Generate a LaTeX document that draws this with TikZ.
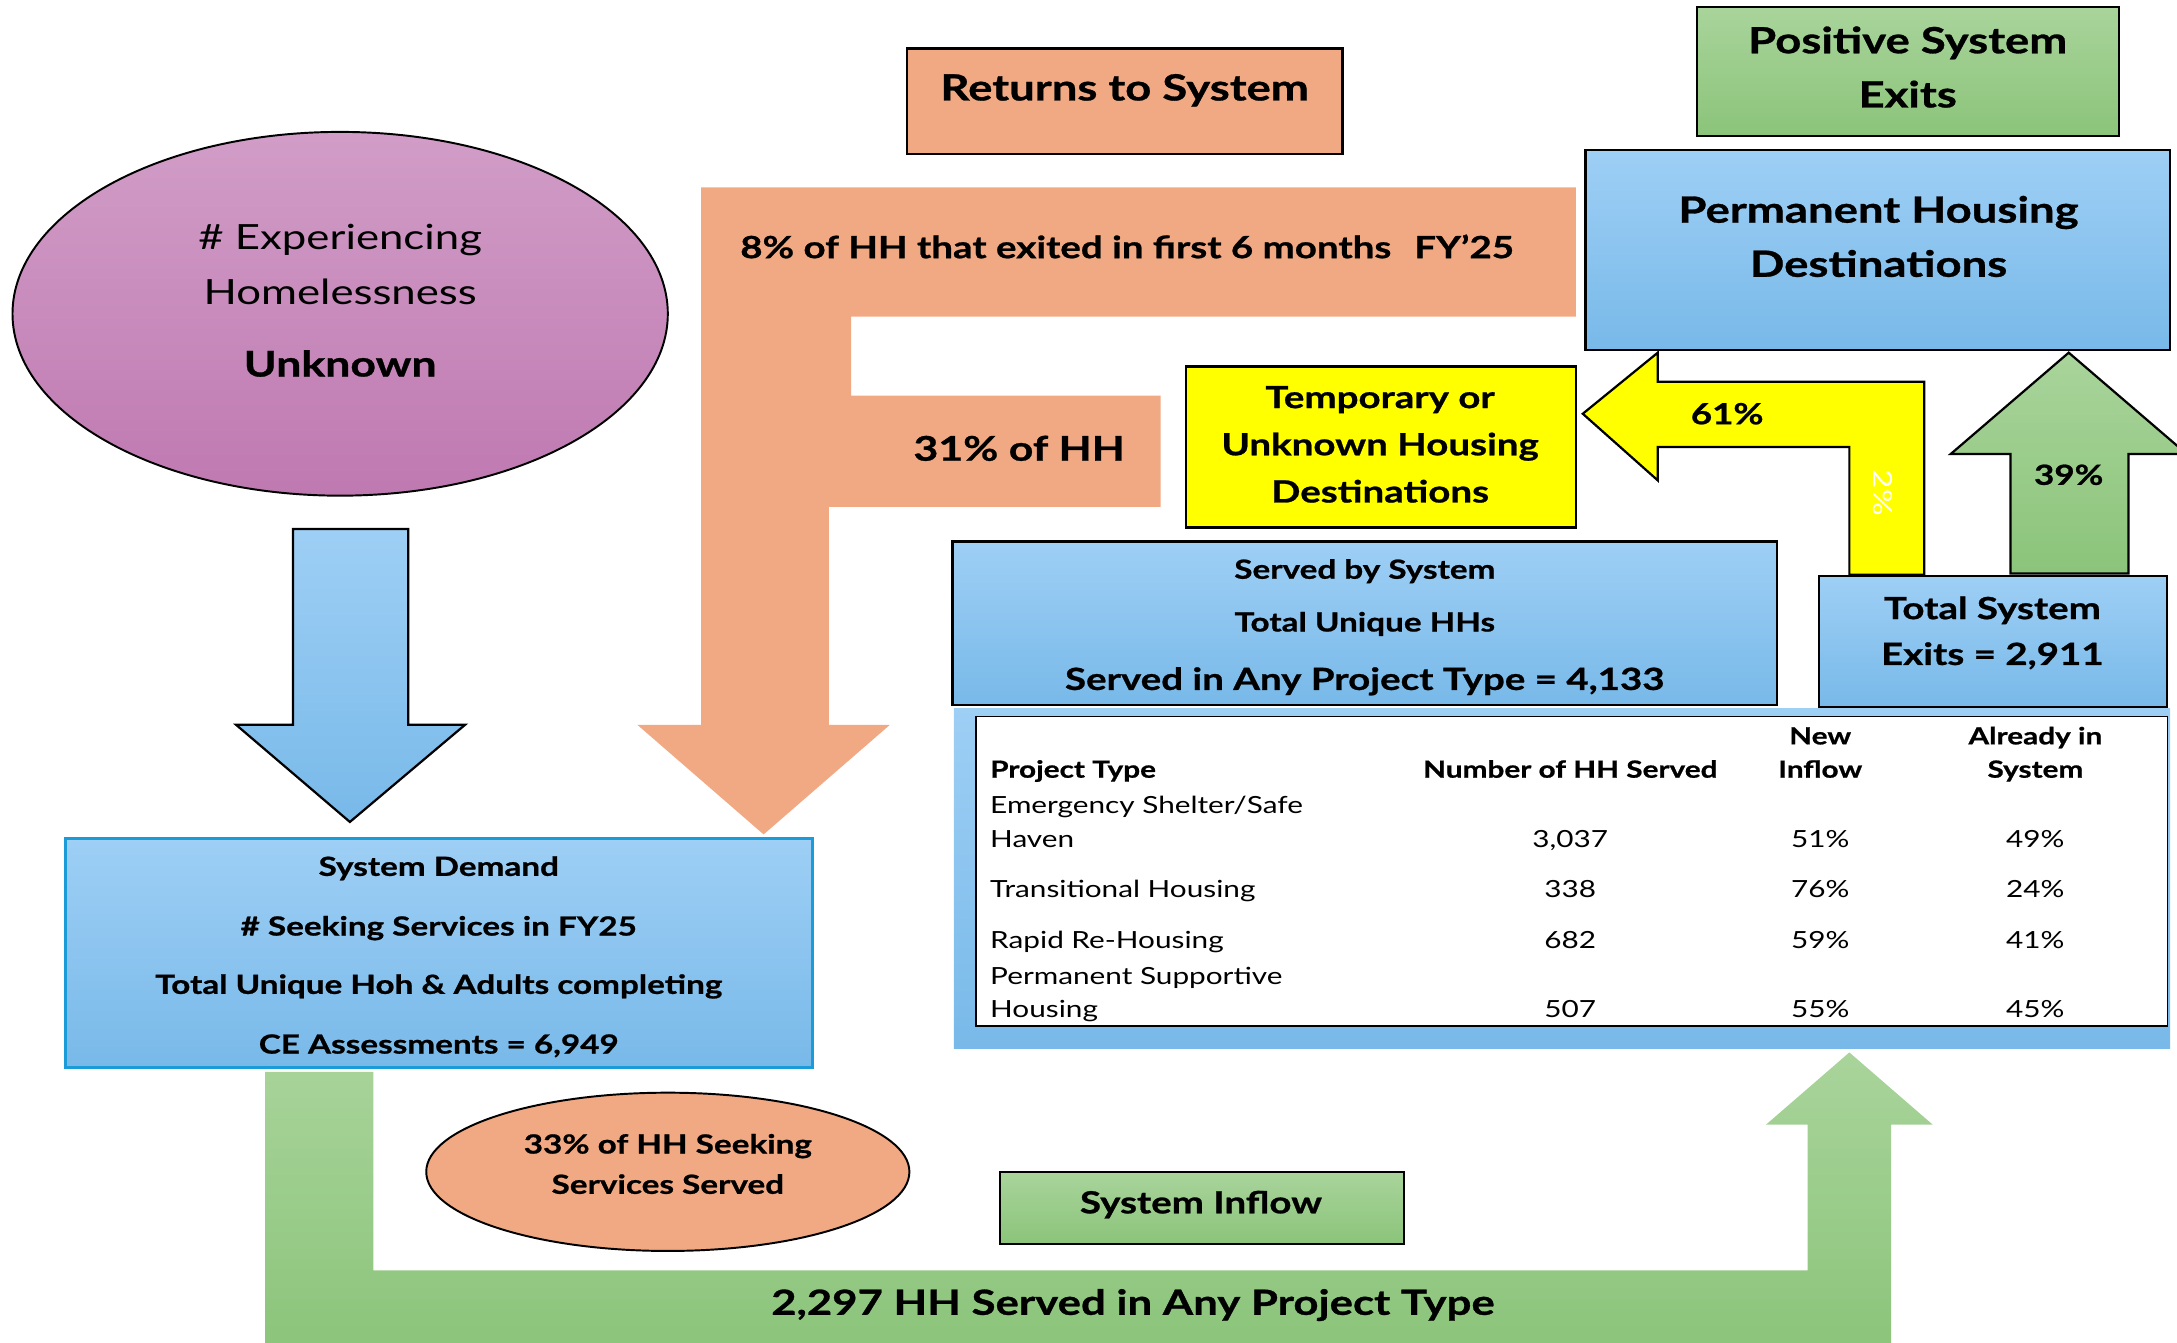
\documentclass[tikz,border=0pt]{standalone}
\usepackage{fontspec}
\setmainfont{Lato}[FakeStretch=1.26,BoldFeatures={FakeBold=0.8}]
\usetikzlibrary{shapes.geometric}
\definecolor{salmon}{HTML}{F1A983}
\definecolor{bluT}{HTML}{9ECFF5}
\definecolor{bluB}{HTML}{78B9E9}
\definecolor{grnT}{HTML}{A9D49B}
\definecolor{grnB}{HTML}{8BC47A}
\definecolor{purT}{HTML}{D19DC7}
\definecolor{purB}{HTML}{BF79B1}
\definecolor{ylw}{HTML}{FFFF00}
\definecolor{sdedge}{HTML}{1B9BD7}
\begin{document}
\begin{tikzpicture}[x=1pt,y=-1pt,line join=miter,
 tx/.style={inner sep=0pt,anchor=base,yshift=-0.36*#1pt,font=\fontsize{#1}{#1}\selectfont},
 tb/.style={tx=#1,font=\fontsize{#1}{#1}\selectfont\bfseries},
 box/.style={draw=black,line width=1.6pt,inner sep=0pt,rectangle},
 bluebox/.style={box,top color=bluT,bottom color=bluB},
 grnbox/.style={box,top color=grnT,bottom color=grnB},
 outl/.style={draw=black,line width=1.6pt}]
\useasboundingbox (0,0) rectangle (1568,967);
% returns shape
\fill[salmon] (505,135) -- (1135,135) -- (1135,228) -- (613,228) -- (613,285) -- (836,285) -- (836,365) -- (597,365) -- (597,522) -- (641,522) -- (550,601) -- (459,522) -- (505,522) -- cycle;
% bottom green inflow arrow
\shade[top color=grnT,bottom color=grnB] (191,772) -- (269,772) -- (269,915) -- (1302,915) -- (1302,810) -- (1272,810) -- (1332,758) -- (1392,810) -- (1362,810) -- (1362,975) -- (191,975) -- cycle;
% blue down arrow
\draw[outl,top color=bluT,bottom color=bluB] (211,381) -- (294,381) -- (294,522) -- (335,522) -- (252,592) -- (170,522) -- (211,522) -- cycle;
% yellow bent arrow
\draw[outl,fill=ylw] (1140,298) -- (1194,254) -- (1194,275) -- (1386,275) -- (1386,414) -- (1332,414) -- (1332,322) -- (1194,322) -- (1194,346) -- cycle;
% green up arrow
\draw[outl,top color=grnT,bottom color=grnB] (1448,413) -- (1448,327) -- (1405,327) -- (1490,254) -- (1575,327) -- (1533,327) -- (1533,413) -- cycle;
% boxes
\node[ellipse,draw=black,line width=1.4pt,top color=purT,bottom color=purB,inner sep=0pt,minimum width=472pt,minimum height=262pt] (exp) at (245,226) {};
\node[box,fill=salmon,minimum width=314pt,minimum height=76pt] (ret) at (810,73) {};
\node[grnbox,minimum width=304pt,minimum height=93pt] (pos) at (1374,51.5) {};
\node[bluebox,minimum width=421pt,minimum height=144pt] (perm) at (1352.5,180) {};
\node[box,fill=ylw,minimum width=281pt,minimum height=116pt] (temp) at (994.5,322) {};
\node[rectangle,inner sep=0pt,top color=bluT,bottom color=bluB,minimum width=876pt,minimum height=245pt] (panel) at (1125,632.5) {};
\node[bluebox,minimum width=594pt,minimum height=118pt] (served) at (983,449) {};
\node[bluebox,minimum width=251pt,minimum height=94pt] (exits) at (1435.5,462) {};
\node[draw=black,line width=1.1pt,fill=white,inner sep=0pt,minimum width=858pt,minimum height=223pt] (tbl) at (1132,627.5) {};
\node[rectangle,draw=sdedge,line width=2.2pt,top color=bluT,bottom color=bluB,inner sep=0pt,minimum width=538pt,minimum height=165pt] (dem) at (316,686.5) {};
\node[ellipse,draw=black,line width=1.4pt,fill=salmon,inner sep=0pt,minimum width=348pt,minimum height=114pt] (pct) at (481,844) {};
\node[grnbox,minimum width=291pt,minimum height=52pt] (inflow) at (865.5,870) {};
% texts
\node[tx=25] (e1) at (245,171) {\# Experiencing};
\node[tx=25] (e2) at (245,210) {Homelessness};
\node[tb=25.5] (e3) at (245,262) {Unknown};
\node[tb=26] (rt) at (810,63) {Returns to System};
\node[tb=22,anchor=base west] (r8) at (533,178) {8\% of HH that exited in first 6 months\hspace{0.75em}FY’25};
\node[tb=24.5] (r31) at (734,323) {31\% of HH};
\node[tb=26] (p1) at (1374,29) {Positive System};
\node[tb=26] (p2) at (1374,68) {Exits};
\node[tb=26] (ph1) at (1353,151) {Permanent Housing};
\node[tb=26] (ph2) at (1353,190) {Destinations};
\node[tb=22] (t1) at (994,286) {Temporary or};
\node[tb=22] (t2) at (994,320) {Unknown Housing};
\node[tb=22] (t3) at (994,354) {Destinations};
\node[tb=21] (y61) at (1244,298) {61\%};
\node[inner sep=0pt,font=\fontsize{19}{19}\selectfont,text=white,rotate=-90] (y2) at (1356,355) {2\%};
\node[tb=20] (g39) at (1490,342) {39\%};
\node[tb=22] (te1) at (1435,438) {Total System};
\node[tb=22] (te2) at (1435,471) {Exits = 2,911};
\node[tb=19] (s1) at (983,410) {Served by System};
\node[tb=19] (s2) at (983,448) {Total Unique HHs};
\node[tb=22] (s3) at (983,489) {Served in Any Project Type = 4,133};
% table
\node[tb=17,anchor=base west] (h1) at (713,554) {Project Type};
\node[tb=17] (h2) at (1131,554) {Number of HH Served};
\node[tb=17] (h3a) at (1311,530) {New};
\node[tb=17] (h3b) at (1311,554) {Inflow};
\node[tb=17] (h4a) at (1466,530) {Already in};
\node[tb=17] (h4b) at (1466,554) {System};
\node[tx=17,anchor=base west] (r1a) at (713,580) {Emergency Shelter/Safe};
\node[tx=17,anchor=base west] (r1b) at (713,604) {Haven};
\node[tx=17] (r1c) at (1131,604) {3,037};
\node[tx=17] (r1d) at (1311,604) {51\%};
\node[tx=17] (r1e) at (1466,604) {49\%};
\node[tx=17,anchor=base west] (r2a) at (713,640) {Transitional Housing};
\node[tx=17] (r2c) at (1131,640) {338};
\node[tx=17] (r2d) at (1311,640) {76\%};
\node[tx=17] (r2e) at (1466,640) {24\%};
\node[tx=17,anchor=base west] (r3a) at (713,677) {Rapid Re-Housing};
\node[tx=17] (r3c) at (1131,677) {682};
\node[tx=17] (r3d) at (1311,677) {59\%};
\node[tx=17] (r3e) at (1466,677) {41\%};
\node[tx=17,anchor=base west] (r4a) at (713,703) {Permanent Supportive};
\node[tx=17,anchor=base west] (r4b) at (713,727) {Housing};
\node[tx=17] (r4c) at (1131,727) {507};
\node[tx=17] (r4d) at (1311,727) {55\%};
\node[tx=17] (r4e) at (1466,727) {45\%};
% system demand
\node[tb=19] (d1) at (316,624) {System Demand};
\node[tb=19] (d2) at (316,667) {\# Seeking Services in FY25};
\node[tb=19] (d3) at (316,709) {Total Unique Hoh \& Adults completing};
\node[tb=19] (d4) at (316,752) {CE Assessments = 6,949};
\node[tb=19] (c1) at (481,824) {33\% of HH Seeking};
\node[tb=19] (c2) at (481,853) {Services Served};
\node[tb=22] (si) at (865,866) {System Inflow};
\node[tb=25] (big) at (816,938) {2,297 HH Served in Any Project Type};
\end{tikzpicture}
\end{document}
